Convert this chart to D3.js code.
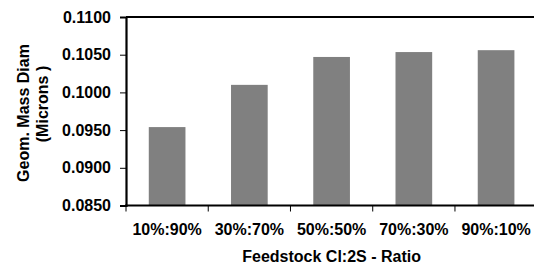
<!DOCTYPE html>
<html>
<head>
<meta charset="utf-8">
<script src="https://cdn.jsdelivr.net/npm/d3@7"></script>
<style>
  body { margin: 0; background: #fff; }
  text { font-family: "Liberation Sans", Arial, sans-serif; font-weight: bold; fill: #000; }
</style>
</head>
<body>
<script>
var ratios = ["10%:90%", "30%:70%", "50%:50%", "70%:30%", "90%:10%"];
var massDiam = [0.0954, 0.1010, 0.1047, 0.10535, 0.1056];
var yTicks = [0.085, 0.090, 0.095, 0.100, 0.105, 0.110];

var w = 534, h = 264;
var plotL = 126, plotR = 537.2, plotT = 17, plotB = 205.5;

var svg = d3.select("body").append("svg")
            .attr("width", w)
            .attr("height", h);

var x = d3.scaleBand()
          .domain(ratios)
          .range([plotL, plotR])
          .paddingInner(0.554)
          .paddingOuter(0.277);

var y = d3.scaleLinear()
          .domain([0.085, 0.110])
          .range([plotB, plotT]);

// bars
svg.selectAll("rect.bar")
   .data(massDiam)
   .enter()
   .append("rect")
   .attr("class", "bar")
   .attr("x", function(d, i){ return x(ratios[i]); })
   .attr("y", function(d){ return y(d); })
   .attr("width", x.bandwidth())
   .attr("height", function(d){ return plotB - y(d); })
   .attr("fill", "#808080");

// top border
svg.append("line")
   .attr("x1", plotL).attr("x2", w)
   .attr("y1", plotT).attr("y2", plotT)
   .attr("stroke", "#000")
   .attr("stroke-width", 2);

// y axis
var yAxis = svg.append("g")
   .attr("transform", "translate(" + plotL + ",0)")
   .call(d3.axisLeft(y)
           .tickValues(yTicks)
           .tickSize(6)
           .tickPadding(9)
           .tickFormat(d3.format(".4f")));
yAxis.select(".domain").attr("stroke-width", 2.2);
yAxis.selectAll("text")
     .attr("font-size", "16px")
     .attr("font-family", null);

// x axis, ticks between categories
var xAxis = svg.append("g")
   .attr("transform", "translate(0," + plotB + ")");
xAxis.append("line")
   .attr("x1", plotL - 1).attr("x2", w)
   .attr("stroke", "#000")
   .attr("stroke-width", 2.2);
xAxis.selectAll("line.tick")
   .data(ratios)
   .enter()
   .append("line")
   .attr("class", "tick")
   .attr("x1", function(d){ return x(d) - x.step() * x.paddingInner() / 2; })
   .attr("x2", function(d){ return x(d) - x.step() * x.paddingInner() / 2; })
   .attr("y1", 0).attr("y2", 6)
   .attr("stroke", "#000");
xAxis.selectAll("text.lab")
   .data(ratios)
   .enter()
   .append("text")
   .attr("class", "lab")
   .attr("x", function(d){ return x(d) + x.bandwidth() / 2; })
   .attr("y", 29.5)
   .attr("text-anchor", "middle")
   .attr("font-size", "16px")
   .text(function(d){ return d; });

// axis titles
svg.append("text")
   .attr("x", (plotL + plotR) / 2)
   .attr("y", 262)
   .attr("text-anchor", "middle")
   .attr("font-size", "16px")
   .text("Feedstock Cl:2S - Ratio");

svg.append("text")
   .attr("transform", "translate(29,113) rotate(-90)")
   .attr("text-anchor", "middle")
   .attr("font-size", "16px")
   .text("Geom. Mass Diam");

svg.append("text")
   .attr("transform", "translate(48,104) rotate(-90)")
   .attr("text-anchor", "middle")
   .attr("font-size", "16px")
   .text("(Microns )");
</script>
</body>
</html>
